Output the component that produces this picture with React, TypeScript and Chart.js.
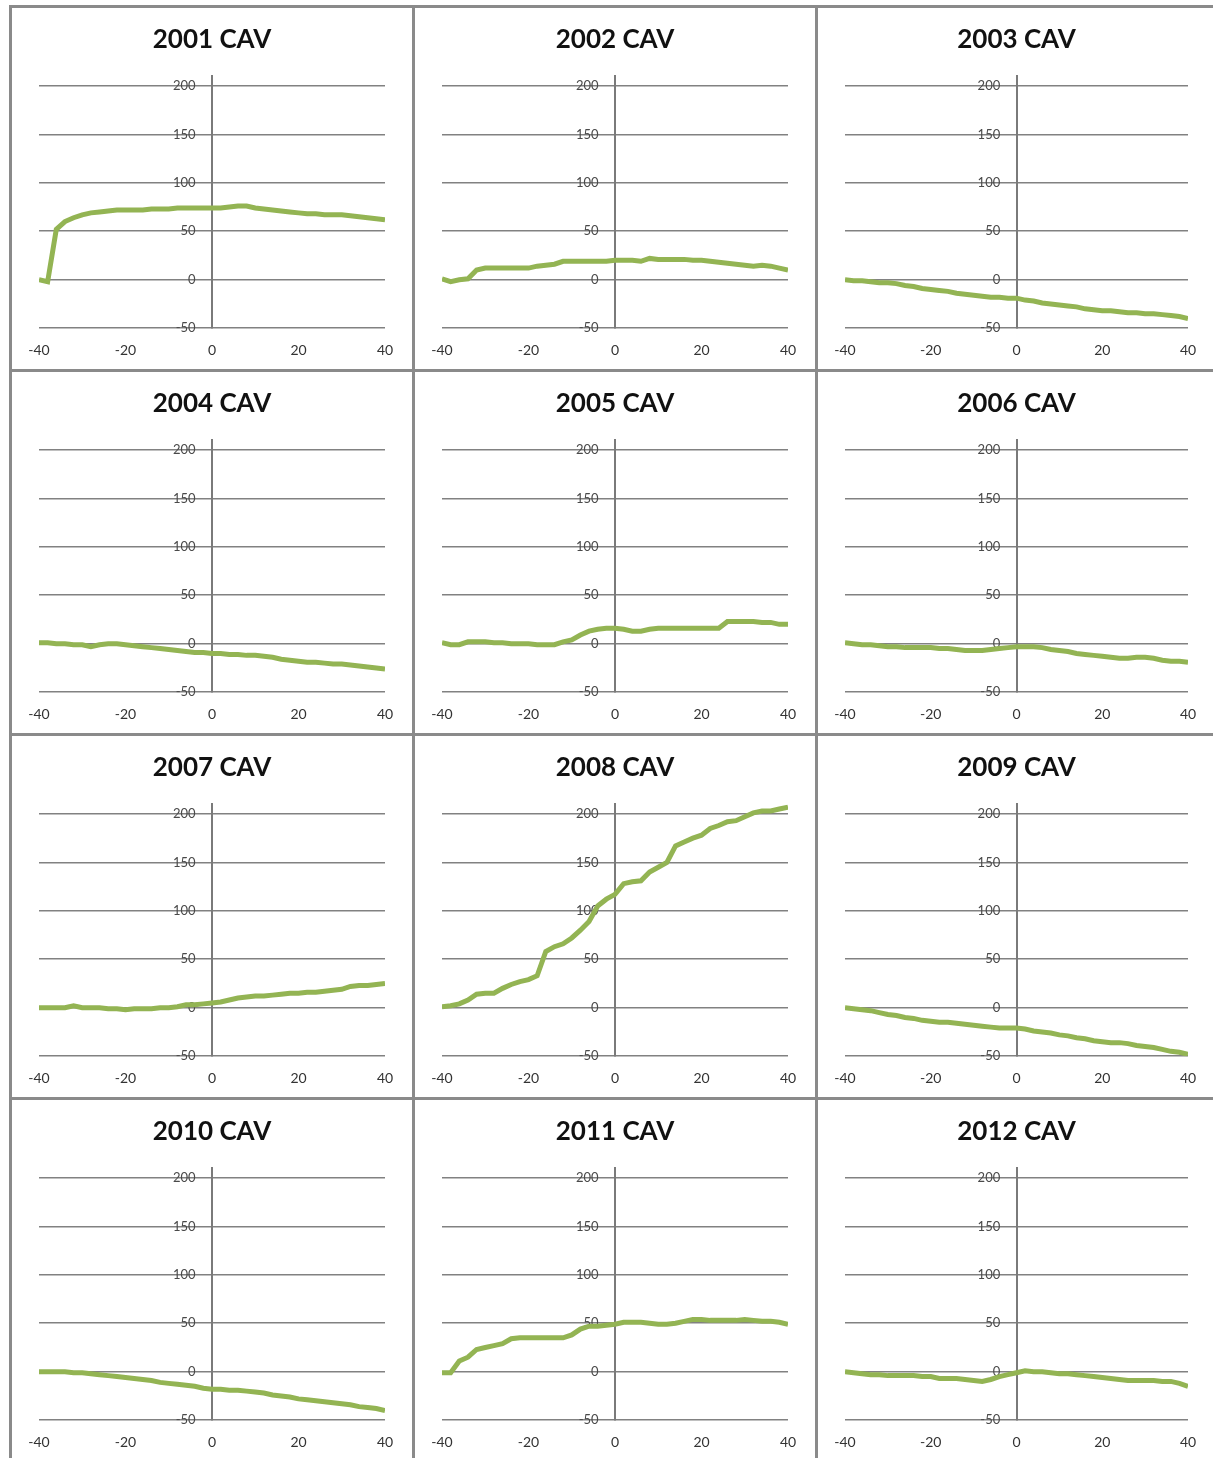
import React, { useEffect, useRef } from "react";
import { Chart, registerables } from "chart.js";

Chart.register(...registerables);

const X = [-40, -38, -36, -34, -32, -30, -28, -26, -24, -22, -20, -18, -16, -14, -12, -10, -8, -6, -4, -2, 0, 2, 4, 6, 8, 10, 12, 14, 16, 18, 20, 22, 24, 26, 28, 30, 32, 34, 36, 38, 40];

const X_TICKS = [-40, -20, 0, 20, 40];
const Y_TICKS = [-50, 0, 50, 100, 150, 200];

const YEARS = ["2001", "2002", "2003", "2004", "2005", "2006", "2007", "2008", "2009", "2010", "2011", "2012"];

const cav2001 = [0, -2, 52, 60, 64, 67, 69, 70, 71, 72, 72, 72, 72, 73, 73, 73, 74, 74, 74, 74, 74, 74, 75, 76, 76, 74, 73, 72, 71, 70, 69, 68, 68, 67, 67, 67, 66, 65, 64, 63, 62];
const cav2002 = [1, -2, 0, 1, 10, 12, 12, 12, 12, 12, 12, 14, 15, 16, 19, 19, 19, 19, 19, 19, 20, 20, 20, 19, 22, 21, 21, 21, 21, 20, 20, 19, 18, 17, 16, 15, 14, 15, 14, 12, 10];
const cav2003 = [0, -1, -1, -2, -3, -3, -4, -6, -7, -9, -10, -11, -12, -14, -15, -16, -17, -18, -18, -19, -19, -21, -22, -24, -25, -26, -27, -28, -30, -31, -32, -32, -33, -34, -34, -35, -35, -36, -37, -38, -40];
const cav2004 = [1, 1, 0, 0, -1, -1, -3, -1, 0, 0, -1, -2, -3, -4, -5, -6, -7, -8, -9, -9, -10, -10, -11, -11, -12, -12, -13, -14, -16, -17, -18, -19, -19, -20, -21, -21, -22, -23, -24, -25, -26];
const cav2005 = [1, -1, -1, 2, 2, 2, 1, 1, 0, 0, 0, -1, -1, -1, 2, 4, 9, 13, 15, 16, 16, 15, 13, 13, 15, 16, 16, 16, 16, 16, 16, 16, 16, 23, 23, 23, 23, 22, 22, 20, 20];
const cav2006 = [1, 0, -1, -1, -2, -3, -3, -4, -4, -4, -4, -5, -5, -6, -7, -7, -7, -6, -5, -4, -3, -3, -3, -4, -6, -7, -8, -10, -11, -12, -13, -14, -15, -15, -14, -14, -15, -17, -18, -18, -19];
const cav2007 = [0, 0, 0, 0, 2, 0, 0, 0, -1, -1, -2, -1, -1, -1, 0, 0, 1, 3, 3, 4, 5, 6, 8, 10, 11, 12, 12, 13, 14, 15, 15, 16, 16, 17, 18, 19, 22, 23, 23, 24, 25];
const cav2008 = [1, 2, 4, 8, 14, 15, 15, 20, 24, 27, 29, 33, 58, 63, 66, 72, 80, 89, 105, 112, 117, 128, 130, 131, 140, 145, 150, 167, 171, 175, 178, 185, 188, 192, 193, 197, 201, 203, 203, 205, 207];
const cav2009 = [0, -1, -2, -3, -5, -7, -8, -10, -11, -13, -14, -15, -15, -16, -17, -18, -19, -20, -21, -21, -21, -22, -24, -25, -26, -28, -29, -31, -32, -34, -35, -36, -36, -37, -39, -40, -41, -43, -45, -46, -48];
const cav2010 = [0, 0, 0, 0, -1, -1, -2, -3, -4, -5, -6, -7, -8, -9, -11, -12, -13, -14, -15, -17, -18, -18, -19, -19, -20, -21, -22, -24, -25, -26, -28, -29, -30, -31, -32, -33, -34, -36, -37, -38, -40];
const cav2011 = [-1, -1, 11, 15, 23, 25, 27, 29, 34, 35, 35, 35, 35, 35, 35, 38, 44, 47, 47, 48, 49, 51, 51, 51, 50, 49, 49, 50, 52, 54, 54, 53, 53, 53, 53, 54, 53, 52, 52, 51, 49];
const cav2012 = [0, -1, -2, -3, -3, -4, -4, -4, -4, -5, -5, -7, -7, -7, -8, -9, -10, -8, -5, -3, -1, 1, 0, 0, -1, -2, -2, -3, -4, -5, -6, -7, -8, -9, -9, -9, -9, -10, -10, -12, -15];

const SERIES = [cav2001, cav2002, cav2003, cav2004, cav2005, cav2006, cav2007, cav2008, cav2009, cav2010, cav2011, cav2012];

const GRID = "#818181";
const LINE = "#93b453";

function Panel({ title, values }: { title: string; values: number[] }) {
  const ref = useRef<HTMLCanvasElement | null>(null);
  useEffect(() => {
    if (!ref.current) return;
    const setTicks = (s: any) => {
      s.ticks = Y_TICKS.map((v) => ({ value: v }));
    };
    const chart = new Chart(ref.current, {
      type: "line",
      data: {
        datasets: [
          {
            data: X.map((x, i) => ({ x, y: values[i] })),
            borderColor: LINE,
            borderWidth: 5,
            pointRadius: 0,
            tension: 0,
            fill: false,
          },
        ],
      },
      options: {
        animation: false,
        responsive: true,
        maintainAspectRatio: false,
        events: [],
        layout: { padding: { left: 27, right: 27, top: 0, bottom: -4 } },
        plugins: {
          legend: { display: false },
          tooltip: { enabled: false },
          title: {
            display: true,
            text: title,
            color: "#111",
            font: { family: "Lato", size: 26, weight: "bold" },
            padding: { top: 16, bottom: 21 },
          },
        },
        scales: {
          x: {
            type: "linear",
            min: -40,
            max: 40,
            afterBuildTicks: (s: any) => {
              s.ticks = X_TICKS.map((v) => ({ value: v }));
            },
            grid: { display: false, drawTicks: false },
            border: { display: false },
            ticks: {
              color: "#333",
              font: { family: "Lato", size: 14 },
              padding: 14,
              maxRotation: 0,
              autoSkip: false,
            },
          },
          y: {
            type: "linear",
            min: -50,
            max: 210,
            position: { x: 0 } as any,
            afterBuildTicks: setTicks,
            grid: { color: GRID, lineWidth: 1.6, drawTicks: false },
            border: { display: true, color: "#7a7a7a", width: 2 },
            ticks: { display: false },
          },
          yLabels: {
            type: "linear",
            axis: "y",
            min: -50,
            max: 210,
            position: { x: -3.8 } as any,
            afterBuildTicks: setTicks,
            grid: { display: false, drawTicks: false },
            border: { display: false },
            ticks: {
              color: "#4a4a4a",
              font: { family: "Lato", size: 13 },
              autoSkip: false,
            },
          },
        },
      },
    });
    return () => chart.destroy();
  }, [title, values]);
  return (
    <div style={{ position: "relative", width: "100%", height: "100%" }}>
      <canvas ref={ref} />
    </div>
  );
}

export default function App() {
  return (
    <div style={{ position: "absolute", left: 0, top: 0, width: 1213, height: 1458, overflow: "hidden", background: "#fff" }}>
      {YEARS.map((y, i) => {
        const col = i % 3;
        const row = Math.floor(i / 3);
        return (
          <div
            key={y}
            style={{
              position: "absolute",
              left: 9 + col * 403,
              top: 5 + row * 364,
              width: 403,
              height: 364,
              boxSizing: "border-box",
              borderLeft: "3px solid #8a8a8a",
              borderTop: "3px solid #8a8a8a",
              borderRight: col === 2 ? "3px solid #8a8a8a" : undefined,
            }}
          >
            <Panel title={`${y} CAV`} values={SERIES[i]} />
          </div>
        );
      })}
    </div>
  );
}
